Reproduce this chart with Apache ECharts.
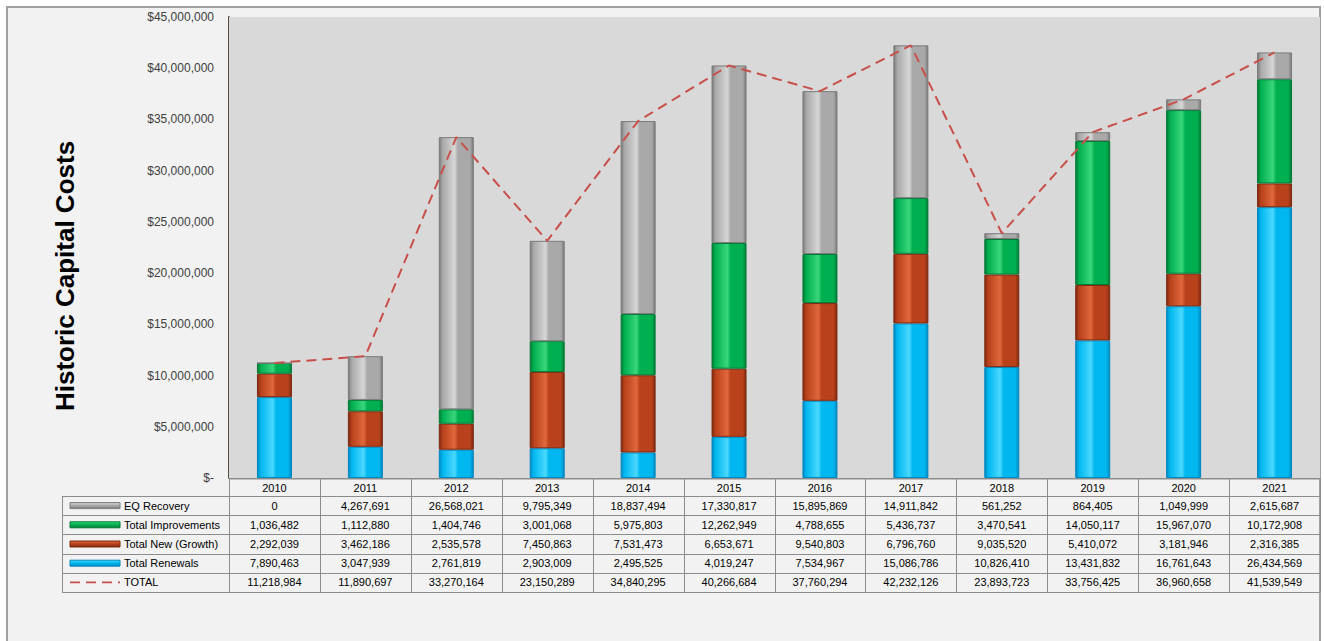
<!DOCTYPE html>
<html>
<head>
<meta charset="utf-8">
<script src="https://cdn.jsdelivr.net/npm/echarts@6/dist/echarts.min.js"></script>
<style>
html,body{margin:0;padding:0;background:#ffffff;}
#chart{width:1324px;height:641px;}
</style>
</head>
<body>
<div id="chart"></div>
<script>
const years = ['2010','2011','2012','2013','2014','2015','2016','2017','2018','2019','2020','2021'];
const eqRecovery = [0, 4267691, 26568021, 9795349, 18837494, 17330817, 15895869, 14911842, 561252, 864405, 1049999, 2615687];
const improvements = [1036482, 1112880, 1404746, 3001068, 5975803, 12262949, 4788655, 5436737, 3470541, 14050117, 15967070, 10172908];
const newGrowth = [2292039, 3462186, 2535578, 7450863, 7531473, 6653671, 9540803, 6796760, 9035520, 5410072, 3181946, 2316385];
const renewals = [7890463, 3047939, 2761819, 2903009, 2495525, 4019247, 7534967, 15086786, 10826410, 13431832, 16761643, 26434569];
const totals = [11218984, 11890697, 33270164, 23150289, 34840295, 40266684, 37760294, 42232126, 23893723, 33756425, 36960658, 41539549];
const seriesNames = ['EQ Recovery','Total Improvements','Total New (Growth)','Total Renewals','TOTAL'];
const yTitle = 'Historic Capital Costs';

const FONT = '"Liberation Sans", Arial, sans-serif';
const pal = {
  gray:  {dark:'#7a7a7a', base:'#a9a9a9', light:'#d6d6d6'},
  green: {dark:'#007a36', base:'#00b050', light:'#3ad67c'},
  red:   {dark:'#7e2a10', base:'#b9411b', light:'#e0683c'},
  blue:  {dark:'#0088c0', base:'#00b7ef', light:'#4ad8ff'}
};
function bevel(p){
  return new echarts.graphic.LinearGradient(0,0,1,0,[
    {offset:0,color:p.dark},{offset:0.1,color:p.base},{offset:0.45,color:p.light},
    {offset:0.55,color:p.base},{offset:0.9,color:p.base},{offset:1,color:p.dark}]);
}
function barSeries(name, data, p){
  return {name:name,type:'bar',stack:'s',data:data,barWidth:35,
    itemStyle:{color:bevel(p),borderColor:p.dark,borderWidth:1}};
}

const chart = echarts.init(document.getElementById('chart'), null, {renderer:'svg'});
const GRID = {left:229, top:17, right:4, bottom:163};
chart.setOption({
  animation:false,
  backgroundColor:'#ffffff',
  grid:{left:GRID.left, top:GRID.top, right:GRID.right, bottom:GRID.bottom, show:true, backgroundColor:'#d9d9d9', borderWidth:0, z:1},
  xAxis:{type:'category',data:years,axisLabel:{show:false},axisTick:{show:false},
    axisLine:{show:true,lineStyle:{color:'#8c8c8c',width:1}}},
  yAxis:{type:'value',min:0,max:45000000,interval:5000000,
    axisLine:{show:true,lineStyle:{color:'#574f3a',width:2}},
    axisTick:{show:false},
    splitLine:{lineStyle:{color:'#858585',width:1}},
    axisLabel:{margin:15,color:'#404040',fontFamily:FONT,fontSize:12,
      formatter:function(v){return v===0?'$-':'$'+v.toLocaleString('en-US');}}},
  series:[
    barSeries(seriesNames[3], renewals, pal.blue),
    barSeries(seriesNames[2], newGrowth, pal.red),
    barSeries(seriesNames[1], improvements, pal.green),
    barSeries(seriesNames[0], eqRecovery, pal.gray),
    {name:seriesNames[4],type:'line',data:totals,symbol:'none',z:5,
      lineStyle:{color:'#c8504b',width:2,type:[10,6]}}
  ]
});

// Build table + frame graphics from the axis scale
const c0 = chart.convertToPixel({xAxisIndex:0}, years[0]);
const c1 = chart.convertToPixel({xAxisIndex:0}, years[1]);
const band = c1 - c0;
const yBase = chart.convertToPixel({yAxisIndex:0}, 0);
const tableLeft = 62;
const colLeft = c0 - band/2;
const colRight = c0 + band*(years.length-0.5);
const headerH = 18;
const rowH = 19.2;
const g = [];
// outer frame
g.push({type:'rect',z:-10,silent:true,shape:{x:7,y:7,width:1313,height:700},
  style:{fill:'#f2f2f2',stroke:'#a0a0a0',lineWidth:2}});
// y title
g.push({type:'text',x:65,y:276,rotation:Math.PI/2,z:10,
  style:{text:yTitle,font:'bold 26px '+FONT,fill:'#000',align:'center',verticalAlign:'middle'}});
const lineStyle = {stroke:'#8c8c8c',lineWidth:1};
const yHead = yBase;
const yRows0 = yBase + headerH;
const nRows = 5;
const yEnd = yRows0 + rowH*nRows;
// header
g.push({type:'line',z:10,shape:{x1:colLeft,y1:yHead+1,x2:colRight,y2:yHead+1},style:lineStyle});
for(let i=0;i<=years.length;i++){
  const x = Math.round(colLeft + band*i)+0.5;
  g.push({type:'line',z:10,shape:{x1:x,y1:yHead,x2:x,y2:yEnd},style:lineStyle});
}
for(let i=0;i<years.length;i++){
  g.push({type:'text',z:10,x:c0+band*i,y:yHead+headerH/2+1,
    style:{text:years[i],font:'11px '+FONT,fill:'#000',align:'center',verticalAlign:'middle'}});
}
// row lines
for(let r=0;r<=nRows;r++){
  const y = Math.round(yRows0 + rowH*r)+0.5;
  g.push({type:'line',z:10,shape:{x1:tableLeft,y1:y,x2:colRight,y2:y},style:lineStyle});
}
const lx = Math.round(tableLeft)+0.5;
g.push({type:'line',z:10,shape:{x1:lx,y1:yRows0,x2:lx,y2:yEnd},style:lineStyle});
const rowsData = [eqRecovery, improvements, newGrowth, renewals, totals];
const rowPal = [pal.gray, pal.green, pal.red, pal.blue, null];
for(let r=0;r<nRows;r++){
  const cy = yRows0 + rowH*r + rowH/2;
  if(rowPal[r]){
    const p = rowPal[r];
    g.push({type:'rect',z:10,shape:{x:70,y:cy-3,width:50,height:6},
      style:{fill:new echarts.graphic.LinearGradient(0,0,0,1,[{offset:0,color:p.light},{offset:0.5,color:p.base},{offset:1,color:p.dark}]),stroke:p.dark,lineWidth:1}});
  } else {
    g.push({type:'line',z:10,shape:{x1:70,y1:cy,x2:120,y2:cy},
      style:{stroke:'#c8504b',lineWidth:1.6,lineDash:[10,6]}});
  }
  g.push({type:'text',z:10,x:124,y:cy,
    style:{text:seriesNames[r],font:'11px '+FONT,fill:'#000',align:'left',verticalAlign:'middle'}});
  for(let i=0;i<years.length;i++){
    g.push({type:'text',z:10,x:c0+band*i,y:cy,
      style:{text:rowsData[r][i].toLocaleString('en-US'),font:'11px '+FONT,fill:'#000',align:'center',verticalAlign:'middle'}});
  }
}
chart.setOption({graphic:g});
</script>
</body>
</html>
